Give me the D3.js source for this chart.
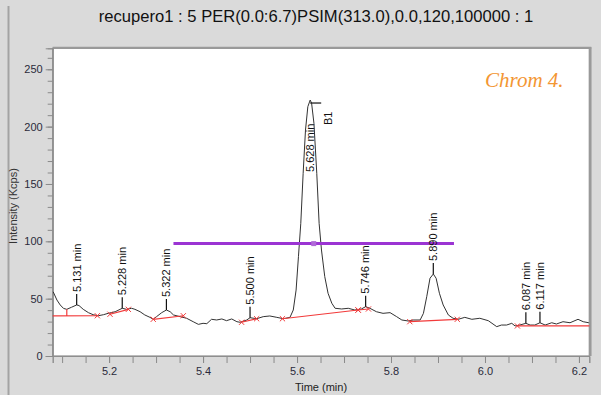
<!DOCTYPE html>
<html>
<head>
<meta charset="utf-8">
<script src="https://cdn.jsdelivr.net/npm/d3@7"></script>
<style>
  html, body { margin: 0; padding: 0; background: #dadada; }
  svg { display: block; font-family: "Liberation Sans", Arial, sans-serif; }
</style>
</head>
<body>
<svg id="chart" width="601" height="395"></svg>
<script>
// Chromatogram trace: retention time (min) and intensity (Kcps)
const times = [5.081, 5.089, 5.096, 5.103, 5.110, 5.120, 5.131, 5.136, 5.145, 5.156,
  5.166, 5.177, 5.188, 5.198, 5.213, 5.228, 5.237, 5.248, 5.255, 5.266,
  5.276, 5.287, 5.294, 5.301, 5.312, 5.322, 5.330, 5.337, 5.351, 5.365,
  5.379, 5.390, 5.400, 5.408, 5.418, 5.429, 5.440, 5.450, 5.461, 5.472,
  5.479, 5.493, 5.500, 5.514, 5.528, 5.542, 5.557, 5.571, 5.585, 5.592,
  5.598, 5.603, 5.608, 5.613, 5.618, 5.623, 5.628, 5.631, 5.636, 5.642,
  5.647, 5.652, 5.659, 5.666, 5.674, 5.681, 5.695, 5.709, 5.723, 5.737,
  5.746, 5.755, 5.769, 5.783, 5.798, 5.812, 5.823, 5.837, 5.847, 5.862,
  5.869, 5.876, 5.883, 5.890, 5.896, 5.903, 5.911, 5.922, 5.932, 5.943,
  5.957, 5.972, 5.989, 6.007, 6.025, 6.035, 6.046, 6.057, 6.064, 6.074,
  6.087, 6.096, 6.106, 6.117, 6.128, 6.142, 6.152, 6.166, 6.181, 6.198,
  6.209, 6.221];
const intensity = [56, 48.8, 44.5, 41.5, 40.7, 42.5, 44.5, 44, 40.7, 37.8,
  36, 35.1, 36, 37.2, 38.6, 41.6, 40.7, 41.6, 40.7, 38.6,
  35.8, 33.7, 32, 34.3, 37.8, 40.1, 38.6, 35.8, 34.3, 32.9,
  29.9, 27.6, 28.5, 28.2, 32, 31.4, 32.3, 30.8, 32.3, 29.9,
  29.4, 31.4, 33.4, 32.5, 34.3, 34.9, 33.7, 32.5, 33.7, 40.1,
  57.5, 86.6, 115.7, 159.3, 197, 217.4, 223.2, 220.4, 202.9, 159.3,
  115.7, 92.4, 69.2, 54.7, 46, 41.6, 41, 41.6, 40.1, 41,
  43, 41.6, 38.6, 37.2, 37.8, 34.3, 31.4, 30.5, 31.4, 31.4,
  37.2, 51.7, 67.8, 71.5, 67.8, 54.7, 44.5, 35.8, 32.9, 32,
  33.7, 32, 32.9, 30.8, 25.6, 27, 27, 28.5, 26.2, 27,
  28.5, 27, 27, 29, 27, 29, 27.9, 29.9, 29, 32,
  29.9, 29];

// Detected peaks: apex time, apex intensity, label
const peakTimes = [5.131, 5.228, 5.322, 5.500, 5.628, 5.746, 5.890, 6.087, 6.117];
const peakHeights = [44.5, 41.6, 40.1, 33.4, 223.2, 43, 71.5, 28.5, 29];
const peakLabels = ["5.131 min", "5.228 min", "5.322 min", "5.500 min", "5.628 min",
  "5.746 min", "5.890 min", "6.087 min", "6.117 min"];

// Integration baselines: start/end time and intensity
const baseStartT = [5.080, 5.202, 5.294, 5.482, 5.569, 5.730, 5.840, 6.069];
const baseStartV = [34.9, 36.4, 32.0, 29.4, 32.5, 40.1, 29.9, 26.2];
const baseEndT   = [5.175, 5.241, 5.358, 5.514, 5.730, 5.752, 5.941, 6.222];
const baseEndV   = [35.1, 40.7, 35.1, 32.5, 40.1, 41.0, 32.0, 26.2];
const baseMarkStart = [false, true, true, true, true, true, true, true];
const baseMarkEnd   = [true, true, true, true, true, true, true, false];

// Valley drop line between the front edge and the first peak
const dropTimes = [5.110];
const dropBase = [34.9];
const dropTop = [40.7];

// Threshold window
const thresholdValue = 98;
const thresholdStart = 5.337;
const thresholdEnd = 5.934;

// Named peak flag
const flaggedPeak = 5.628;
const flaggedName = "B1";

// Axis ticks
const xMajorTicks = [5.2, 5.4, 5.6, 5.8, 6.0, 6.2];
const xMinorTicks = d3.range(0, 23).map(i => +(5.10 + i * 0.05).toFixed(2));
const yMajorTicks = [0, 50, 100, 150, 200, 250];
const yMinorTicks = d3.range(0, 27).map(i => i * 10);

const title = "recupero1 : 5 PER(0.0:6.7)PSIM(313.0),0.0,120,100000 : 1";
const xTitle = "Time (min)";
const yTitle = "Intensity (Kcps)";
const note = "Chrom 4.";

const svg = d3.select("#chart");
const W = 601, H = 395;
const plot = { left: 52.7, right: 589.3, top: 48.3, bottom: 356 };

const x = d3.scaleLinear().domain([5.08, 6.222]).range([plot.left, plot.right]);
const y = d3.scaleLinear().domain([0, 268.3]).range([plot.bottom, plot.top]);

// Panel background and outer frame line
svg.append("rect").attr("width", W).attr("height", H).attr("fill", "#dadada");
svg.append("line").attr("x1", 8.5).attr("x2", 8.5).attr("y1", 6).attr("y2", H)
  .attr("stroke", "#a3a3a3").attr("stroke-width", 2);

// Title
svg.append("text").attr("x", 316).attr("y", 21.5).attr("text-anchor", "middle")
  .style("font-size", "16.6px").attr("fill", "#111").text(title);

// Plot area
svg.append("rect")
  .attr("x", plot.left).attr("y", plot.top)
  .attr("width", plot.right - plot.left).attr("height", plot.bottom - plot.top)
  .attr("fill", "#fff").attr("stroke", "#8e8e8e").attr("stroke-width", 1.2);
svg.append("line").attr("x1", plot.right + 1).attr("x2", plot.right + 1)
  .attr("y1", plot.top - 1).attr("y2", plot.bottom)
  .attr("stroke", "#9a9a9a").attr("stroke-width", 2.5);
svg.append("line").attr("x1", plot.left).attr("x2", plot.right + 2)
  .attr("y1", plot.top - 0.5).attr("y2", plot.top - 0.5)
  .attr("stroke", "#9a9a9a").attr("stroke-width", 2);

// X axis
const gxMinor = svg.append("g").attr("transform", `translate(0,${plot.bottom})`)
  .call(d3.axisBottom(x).tickValues(xMinorTicks).tickSize(7).tickFormat(""));
const gx = svg.append("g").attr("transform", `translate(0,${plot.bottom})`)
  .call(d3.axisBottom(x).tickValues(xMajorTicks).tickSize(7).tickPadding(4)
    .tickFormat(d3.format(".1f")));

// Y axis
const gyMinor = svg.append("g").attr("transform", `translate(${plot.left},0)`)
  .call(d3.axisLeft(y).tickValues(yMinorTicks).tickSize(5).tickFormat(""));
const gy = svg.append("g").attr("transform", `translate(${plot.left},0)`)
  .call(d3.axisLeft(y).tickValues(yMajorTicks).tickSize(7).tickPadding(3));

[gxMinor, gx, gyMinor, gy].forEach(g => {
  g.attr("font-family", null);
  g.select(".domain").attr("stroke", "#8e8e8e");
  g.selectAll(".tick line").attr("stroke", "#8a8a8a");
  g.selectAll(".tick text").style("font-size", "11px").attr("fill", "#2a2a3a");
});

svg.append("text").attr("x", 321).attr("y", 391).attr("text-anchor", "middle")
  .style("font-size", "11px").attr("fill", "#222").text(xTitle);
svg.append("text").attr("transform", `translate(16.5,206) rotate(-90)`)
  .attr("text-anchor", "middle").style("font-size", "11px").attr("fill", "#333").text(yTitle);

// Trace
const line = d3.line().x((d, i) => x(times[i])).y(d => y(d));
svg.append("path").datum(intensity).attr("d", line)
  .attr("fill", "none").attr("stroke", "#333").attr("stroke-width", 1);

// Baselines and their end markers
const red = "#f23a3a";
baseStartT.forEach((t0, i) => {
  svg.append("line")
    .attr("x1", x(t0)).attr("y1", y(baseStartV[i]))
    .attr("x2", x(baseEndT[i])).attr("y2", y(baseEndV[i]))
    .attr("stroke", red).attr("stroke-width", 1.2);
});
function cross(t, v) {
  const cx = x(t), cy = y(v), s = 2.6;
  svg.append("path")
    .attr("d", `M${cx - s},${cy - s}L${cx + s},${cy + s}M${cx - s},${cy + s}L${cx + s},${cy - s}`)
    .attr("stroke", red).attr("stroke-width", 1);
}
baseStartT.forEach((t0, i) => {
  if (baseMarkStart[i]) cross(t0, baseStartV[i]);
  if (baseMarkEnd[i]) cross(baseEndT[i], baseEndV[i]);
});
dropTimes.forEach((t, i) => {
  svg.append("line").attr("x1", x(t)).attr("x2", x(t))
    .attr("y1", y(dropBase[i])).attr("y2", y(dropTop[i]))
    .attr("stroke", red).attr("stroke-width", 1.2);
});

// Threshold window
svg.append("line")
  .attr("x1", x(thresholdStart)).attr("x2", x(thresholdEnd))
  .attr("y1", y(thresholdValue)).attr("y2", y(thresholdValue))
  .attr("stroke", "#9b34d3").attr("stroke-width", 3);
const midT = (thresholdStart + thresholdEnd) / 2;
svg.append("rect").attr("x", x(midT) - 2.5).attr("y", y(thresholdValue) - 2.5)
  .attr("width", 5).attr("height", 5).attr("fill", "#b06ad8");

// Peak labels with leader ticks
const tickLen = 11, gap = 2, labelLen = 50;
peakTimes.forEach((t, i) => {
  const px = x(t), py = y(peakHeights[i]);
  let start;
  if (py - tickLen - gap - labelLen < plot.top) {
    // no room above the apex: label sits inside the peak
    start = py + 72;
  } else {
    svg.append("line").attr("x1", px).attr("x2", px)
      .attr("y1", py).attr("y2", py - tickLen)
      .attr("stroke", "#111").attr("stroke-width", 1.2);
    start = py - tickLen - gap;
  }
  svg.append("text")
    .attr("transform", `translate(${px},${start}) rotate(-90)`)
    .attr("dy", "0.35em").style("font-size", "11px").attr("fill", "#111")
    .text(peakLabels[i]);
});

// Flag on the named peak
const fi = peakTimes.indexOf(flaggedPeak);
const fx = x(flaggedPeak), fy = y(peakHeights[fi]);
svg.append("line").attr("x1", fx).attr("x2", fx + 11)
  .attr("y1", fy + 3).attr("y2", fy + 3).attr("stroke", "#111").attr("stroke-width", 1.2);
svg.append("text")
  .attr("transform", `translate(${fx + 18},${fy + 25}) rotate(-90)`)
  .attr("dy", "0.35em").style("font-size", "11px").attr("fill", "#111").text(flaggedName);

// Chromatogram tag
svg.append("text").attr("x", 485).attr("y", 87)
  .style("font-family", "'Liberation Serif', 'DejaVu Serif', serif")
  .style("font-style", "italic").style("font-size", "21px")
  .attr("fill", "#f39633").text(note);
</script>
</body>
</html>
